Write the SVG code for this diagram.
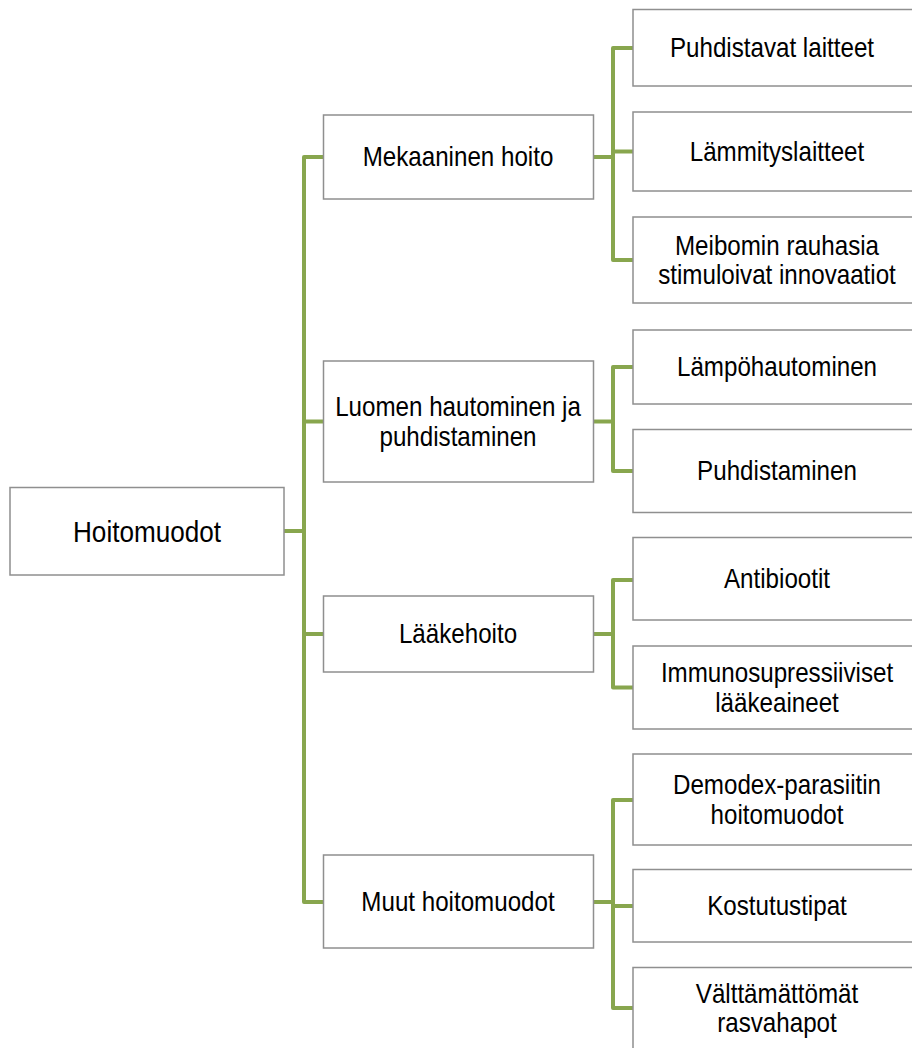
<svg xmlns="http://www.w3.org/2000/svg" width="912" height="1048" viewBox="0 0 912 1048">
<style>
.box{fill:#fff;stroke:#8f8f8f;stroke-width:1.5}
.t{font-family:"Liberation Sans",Arial,sans-serif;font-size:27px;fill:#000;text-anchor:middle}
.root{font-size:30px}
.c{fill:none;stroke:#88A64E;stroke-width:4;stroke-linejoin:round;stroke-linecap:butt}
</style>
<rect width="912" height="1048" fill="#fff"/>
<g id="connectors">
<path class="c" d="M284,531H304"/>
<path class="c" d="M323,157H304V902H323"/>
<path class="c" d="M304,421.5H323"/>
<path class="c" d="M304,634H323"/>
<path class="c" d="M593,157H613"/>
<path class="c" d="M633,48H613V260H633"/>
<path class="c" d="M613,151.5H633"/>
<path class="c" d="M593,421.5H613"/>
<path class="c" d="M633,367H613V471H633"/>
<path class="c" d="M593,634H613"/>
<path class="c" d="M633,580H613V687.5H633"/>
<path class="c" d="M593,902H613"/>
<path class="c" d="M633,800H613V1008H633"/>
<path class="c" d="M613,906H633"/>
</g>
<g id="root">
<rect class="box" x="10" y="487.5" width="274" height="87.5"/>
<text class="t root" transform="translate(147,541.5) scale(0.87,1)">Hoitomuodot</text>
</g>
<g id="mekaaninen">
<rect class="box" x="323.5" y="115" width="270" height="84"/>
<text class="t" transform="translate(458,166) scale(0.895,1)">Mekaaninen hoito</text>
</g>
<g id="luomen">
<rect class="box" x="323.5" y="361" width="270" height="121"/>
<text class="t" transform="translate(458,416.2) scale(0.895,1)"><tspan x="0">Luomen hautominen ja</tspan><tspan x="0" dy="29.5">puhdistaminen</tspan></text>
</g>
<g id="laakehoito">
<rect class="box" x="323.5" y="596" width="270" height="76"/>
<text class="t" transform="translate(458,643) scale(0.895,1)">Lääkehoito</text>
</g>
<g id="muut">
<rect class="box" x="323.5" y="855" width="270" height="93"/>
<text class="t" transform="translate(458,910.5) scale(0.895,1)">Muut hoitomuodot</text>
</g>
<g id="puhdistavat">
<rect class="box" x="633" y="9.5" width="288" height="76.5"/>
<text class="t" transform="translate(772,56.5) scale(0.895,1)">Puhdistavat laitteet</text>
</g>
<g id="lammitys">
<rect class="box" x="633" y="112" width="288" height="79"/>
<text class="t" transform="translate(777,160.5) scale(0.895,1)">Lämmityslaitteet</text>
</g>
<g id="meibomin">
<rect class="box" x="633" y="217" width="288" height="86"/>
<text class="t" transform="translate(777,254.7) scale(0.895,1)"><tspan x="0">Meibomin rauhasia</tspan><tspan x="0" dy="29.5">stimuloivat innovaatiot</tspan></text>
</g>
<g id="lampohautominen">
<rect class="box" x="633" y="330" width="288" height="74"/>
<text class="t" transform="translate(777,376) scale(0.895,1)">Lämpöhautominen</text>
</g>
<g id="puhdistaminen">
<rect class="box" x="633" y="429.5" width="288" height="83"/>
<text class="t" transform="translate(777,480) scale(0.895,1)">Puhdistaminen</text>
</g>
<g id="antibiootit">
<rect class="box" x="633" y="537.5" width="288" height="82.5"/>
<text class="t" transform="translate(777,587.5) scale(0.895,1)">Antibiootit</text>
</g>
<g id="immuno">
<rect class="box" x="633" y="646" width="288" height="83"/>
<text class="t" transform="translate(777,682.2) scale(0.895,1)"><tspan x="0">Immunosupressiiviset</tspan><tspan x="0" dy="29.5">lääkeaineet</tspan></text>
</g>
<g id="demodex">
<rect class="box" x="633" y="754" width="288" height="91"/>
<text class="t" transform="translate(777,794.2) scale(0.895,1)"><tspan x="0">Demodex-parasiitin</tspan><tspan x="0" dy="29.5">hoitomuodot</tspan></text>
</g>
<g id="kostutustipat">
<rect class="box" x="633" y="869.5" width="288" height="72.5"/>
<text class="t" transform="translate(777,914.5) scale(0.895,1)">Kostutustipat</text>
</g>
<g id="valttamattomat">
<rect class="box" x="633" y="967.5" width="288" height="82"/>
<text class="t" transform="translate(777,1002.7) scale(0.895,1)"><tspan x="0">Välttämättömät</tspan><tspan x="0" dy="29.5">rasvahapot</tspan></text>
</g>
</svg>
